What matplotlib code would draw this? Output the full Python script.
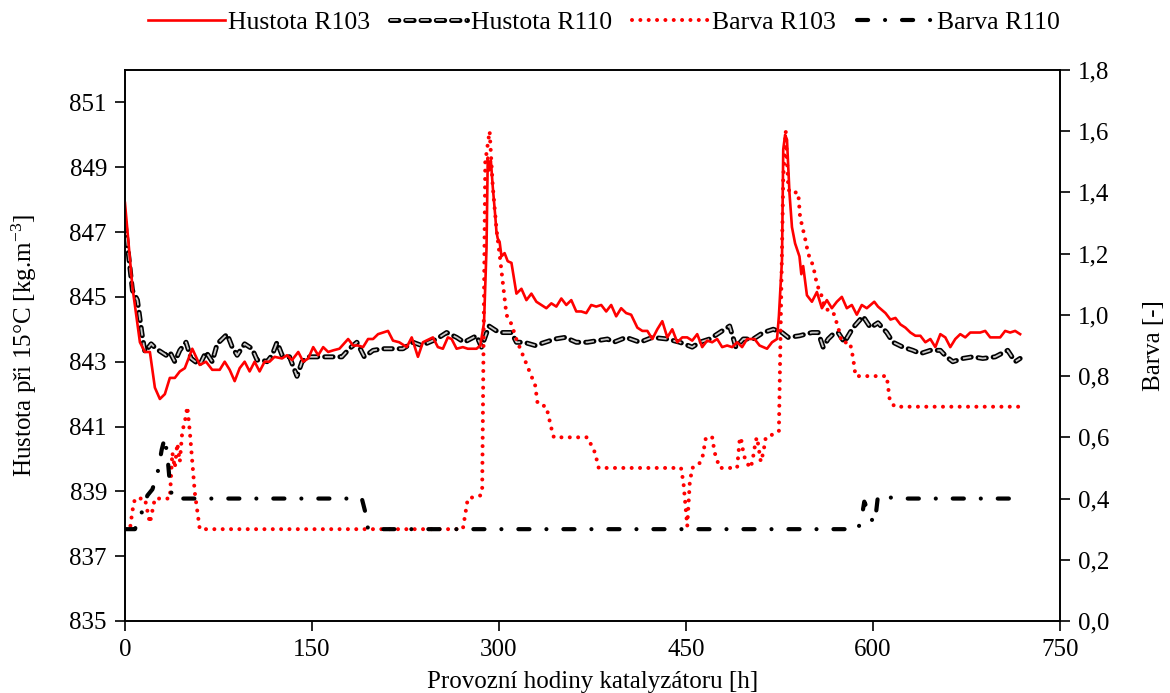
#!/usr/bin/env python3

import matplotlib
matplotlib.use("Agg")
import matplotlib.pyplot as plt
import matplotlib.patheffects as pe
from matplotlib.ticker import FuncFormatter

# ----------------------------
# Data
# ----------------------------
h_r103 = [0, 6, 12, 16, 20, 24, 28, 32, 36, 40, 44, 48, 54, 60, 65, 70, 76, 80, 84, 88,
          92, 96, 100, 104, 108, 112, 116, 120, 126, 130, 134, 139, 143, 147, 151, 155,
          159, 163, 167, 172, 179, 183, 187, 191, 195, 199, 203, 207, 211, 215, 220, 226,
          230, 235, 239, 247, 251, 255, 259, 262, 266, 271, 275, 282, 285, 288, 290, 291,
          292, 293.5, 295, 297, 298, 299, 300.5, 302, 304.5, 307, 310, 314, 318, 322, 326,
          330, 334, 338, 342, 346, 350, 354, 358, 362, 366, 370, 374, 378, 382, 386, 390,
          394, 398, 402, 406, 411, 415, 419, 423, 427, 431, 435, 439, 443, 447, 451, 455,
          459, 463, 467, 471, 475, 479, 483, 487, 491, 495, 499, 505, 509, 515, 519, 523,
          524.5, 527, 528, 529.5, 531, 532, 533, 535, 537.5, 541, 542.5, 544, 547, 551, 555,
          559, 563, 567, 571, 575, 579, 583, 587, 591, 595, 601, 604, 607, 610, 614, 618,
          622, 626, 630, 634, 638, 642, 646, 650, 654, 658, 662, 666, 670, 674, 678, 682,
          686, 690, 694, 698, 702, 706, 710, 714, 718]
hustota_r103 = [847.9, 845.3, 843.6, 843.3, 843.3, 842.2, 841.85, 842.0, 842.5, 842.5, 842.7,
                842.8, 843.4, 842.9, 843.0, 842.75, 842.75, 843.0, 842.75, 842.4, 842.8,
                843.0, 842.7, 843.0, 842.7, 843.0, 843.0, 843.15, 843.1, 843.2, 843.05,
                843.3, 843.0, 843.1, 843.45, 843.2, 843.45, 843.3, 843.35, 843.4, 843.7,
                843.5, 843.5, 843.45, 843.7, 843.7, 843.85, 843.9, 843.95, 843.65, 843.6,
                843.45, 843.75, 843.15, 843.6, 843.75, 843.45, 843.4, 843.75, 843.7, 843.4,
                843.45, 843.4, 843.4, 843.5, 844.2, 846.5, 849.3, 848.9, 849.2, 848.4, 847.5,
                847.0, 846.8, 846.7, 846.25, 846.35, 846.1, 846.05, 845.1, 845.25, 844.9,
                845.1, 844.85, 844.75, 844.65, 844.8, 844.7, 844.95, 844.75, 844.9, 844.55,
                844.55, 844.5, 844.75, 844.7, 844.75, 844.55, 844.75, 844.4, 844.65, 844.5,
                844.45, 844.05, 843.95, 843.95, 843.7, 844.0, 844.25, 843.75, 844.0, 843.6,
                843.75, 843.75, 843.65, 843.85, 843.45, 843.65, 843.6, 843.7, 843.45, 843.5,
                843.45, 843.6, 843.45, 843.7, 843.7, 843.5, 843.4, 843.6, 843.7, 844.4,
                846.15, 849.55, 850.0, 849.85, 849.0, 848.2, 847.15, 846.65, 846.25, 845.7,
                845.95, 845.05, 844.85, 845.15, 844.65, 844.9, 844.65, 844.85, 845.0,
                844.65, 844.75, 844.45, 844.75, 844.65, 844.85, 844.7, 844.6, 844.5, 844.3,
                844.35, 844.15, 844.05, 843.9, 843.8, 843.8, 843.6, 843.7, 843.45, 843.85,
                843.75, 843.45, 843.7, 843.85, 843.75, 843.9, 843.9, 843.9, 843.95, 843.75,
                843.75, 843.75, 843.95, 843.9, 843.95, 843.85]

h_r110 = [0, 6, 10, 13.5, 16, 21, 25, 29, 33, 36, 40, 44, 49, 53, 60, 65, 70, 74, 78, 82,
          86, 90, 96, 102, 106, 110, 114, 118, 122, 126, 132, 138, 142, 147, 155, 164, 174,
          180, 186, 192, 199, 207, 215, 223, 231, 238, 244, 250, 258, 266, 272, 282, 286,
          292, 300, 310, 314, 320, 329, 337, 345, 353, 362, 371, 379, 387, 392, 402, 413,
          423, 435, 445, 455, 461, 469, 477, 485, 490, 496, 504, 512, 520, 527, 532, 541,
          551, 556, 560, 564, 568, 572, 577, 584, 592, 598, 604, 611, 616, 624, 632, 638,
          646, 654, 659, 664, 672, 680, 688, 698, 708, 714, 718]
hustota_r110 = [847.3, 845.2, 844.9, 843.9, 843.3, 843.55, 843.4, 843.3, 843.2, 843.3, 843.0,
                843.35, 843.6, 843.1, 842.9, 843.3, 843.0, 843.55, 843.7, 843.85, 843.45,
                843.2, 843.55, 843.4, 843.05, 843.05, 843.0, 843.2, 843.6, 843.2, 843.15,
                842.55, 843.0, 843.15, 843.15, 843.15, 843.15, 843.4, 843.6, 843.15, 843.35,
                843.4, 843.4, 843.4, 843.6, 843.5, 843.6, 843.7, 843.9, 843.75, 843.6,
                843.8, 843.45, 844.1, 843.9, 843.9, 843.6, 843.6, 843.5, 843.6, 843.7,
                843.75, 843.6, 843.6, 843.65, 843.7, 843.6, 843.75, 843.6, 843.75, 843.7,
                843.6, 843.45, 843.6, 843.7, 843.9, 844.1, 843.45, 843.7, 843.7, 843.9,
                844.0, 843.9, 843.75, 843.8, 843.9, 843.9, 843.45, 843.7, 843.85, 843.9,
                843.6, 844.05, 844.4, 844.05, 844.2, 843.9, 843.6, 843.45, 843.35, 843.25,
                843.35, 843.35, 843.15, 843.0, 843.1, 843.15, 843.1, 843.15, 843.35, 843.0,
                843.1]

h_barva_r103 = [0, 4, 6, 8, 16, 20, 22, 24, 36, 38, 40, 42, 44, 46, 48, 50, 52, 56, 60, 271,
                273, 275, 285, 286.5, 289, 292.5, 295, 298, 301, 306, 310, 314, 321, 325, 329,
                331, 338, 342, 344, 371, 377, 380, 446, 448, 451, 453, 455, 460, 463, 466,
                471, 473, 477, 491, 493, 494, 496, 498, 502, 504, 506, 507, 510, 512, 514,
                520, 524.5, 528, 530, 532, 533, 540, 541.5, 545.5, 548, 552, 555, 559, 561.5,
                568, 572, 575, 581.5, 584, 586, 606, 611, 613.5, 617.5, 718]
barva_r103 = [0.30, 0.30, 0.36, 0.40, 0.40, 0.32, 0.36, 0.40, 0.40, 0.55, 0.50, 0.58, 0.52,
              0.62, 0.65, 0.70, 0.62, 0.42, 0.30, 0.30, 0.35, 0.40, 0.41, 0.42, 1.50, 1.60,
              1.42, 1.28, 1.18, 1.00, 0.97, 0.92, 0.85, 0.81, 0.77, 0.71, 0.70, 0.63, 0.60,
              0.60, 0.55, 0.50, 0.50, 0.45, 0.31, 0.45, 0.50, 0.51, 0.53, 0.60, 0.60, 0.55,
              0.50, 0.50, 0.59, 0.60, 0.55, 0.52, 0.50, 0.54, 0.59, 0.60, 0.52, 0.55, 0.60,
              0.61, 0.62, 1.45, 1.60, 1.42, 1.40, 1.40, 1.32, 1.25, 1.20, 1.16, 1.10, 1.06,
              1.02, 1.01, 0.96, 0.91, 0.91, 0.86, 0.80, 0.80, 0.80, 0.72, 0.70, 0.70]

h_barva_r110 = [0, 8, 14, 18, 22, 26, 29.5, 32, 34.5, 36, 38, 190, 192.5, 195, 588, 591, 593,
                595, 597, 601.5, 604, 619, 718]
barva_r110 = [0.30, 0.30, 0.36, 0.41, 0.43, 0.48, 0.56, 0.60, 0.52, 0.45, 0.40, 0.40, 0.36,
              0.30, 0.30, 0.34, 0.39, 0.37, 0.34, 0.32, 0.41, 0.40, 0.40]

# ----------------------------
# Labels / style
# ----------------------------
x_label = "Provozní hodiny katalyzátoru [h]"
y_label = "Hustota při 15°C [kg.m$^{-3}$]"
y2_label = "Barva [-]"
font = "Liberation Serif"
fs = 18

plt.rcParams["font.family"] = font
plt.rcParams["mathtext.fontset"] = "custom"
plt.rcParams["mathtext.rm"] = font
plt.rcParams["mathtext.it"] = font + ":italic"
plt.rcParams["lines.scale_dashes"] = False


def main():
    fig = plt.figure(figsize=(11.7, 6.93), dpi=100)
    ax = fig.add_axes([0.1068, 0.1039, 0.7992, 0.7951])
    ax2 = ax.twinx()

    l1, = ax.plot(h_r103, hustota_r103, color="red", linewidth=1.9, label="Hustota R103", zorder=3)
    l2, = ax.plot(h_r110, hustota_r110, color="#c8c8c8", linewidth=1.3,
                  linestyle=(0, (6, 5)), dash_capstyle="butt", label="Hustota R110", zorder=2,
                  path_effects=[pe.Stroke(linewidth=3.6, foreground="black", capstyle="round"),
                                pe.Normal()])
    l3, = ax2.plot(h_barva_r103, barva_r103, color="red", linewidth=2.9,
                   linestyle=(0, (0.01, 6)), dash_capstyle="round", label="Barva R103")
    l4, = ax2.plot(h_barva_r110, barva_r110, color="black", linewidth=3.0,
                   linestyle=(0, (8, 12.2, 0.01, 12.2)), dash_capstyle="round",
                   label="Barva R110")

    ax.set_xlim(0, 750)
    ax.set_ylim(835, 852)
    ax2.set_ylim(0, 1.8)
    ax.set_xticks(range(0, 751, 150))
    ax.set_yticks(range(835, 852, 2))
    ax2.set_yticks([i * 0.2 for i in range(10)])
    ax2.yaxis.set_major_formatter(FuncFormatter(lambda v, p: f"{v:.1f}".replace(".", ",")))

    for a in (ax, ax2):
        for s in a.spines.values():
            s.set_linewidth(1.2)
        a.tick_params(direction="out", length=7, width=1.2, labelsize=fs, pad=6)

    ax.set_xlabel(x_label, fontsize=fs, labelpad=7)
    ax.set_ylabel(y_label, fontsize=fs, labelpad=22)
    ax2.set_ylabel(y2_label, fontsize=fs, labelpad=24)

    fig.legend(handles=[l1, l2, l3, l4], loc="center", bbox_to_anchor=(0.516, 0.968),
               ncol=4, frameon=False, fontsize=18.5, handlelength=3.0, handletextpad=0.12,
               columnspacing=0.8)

    fig.savefig("out.png", dpi=100)


if __name__ == "__main__":
    main()
